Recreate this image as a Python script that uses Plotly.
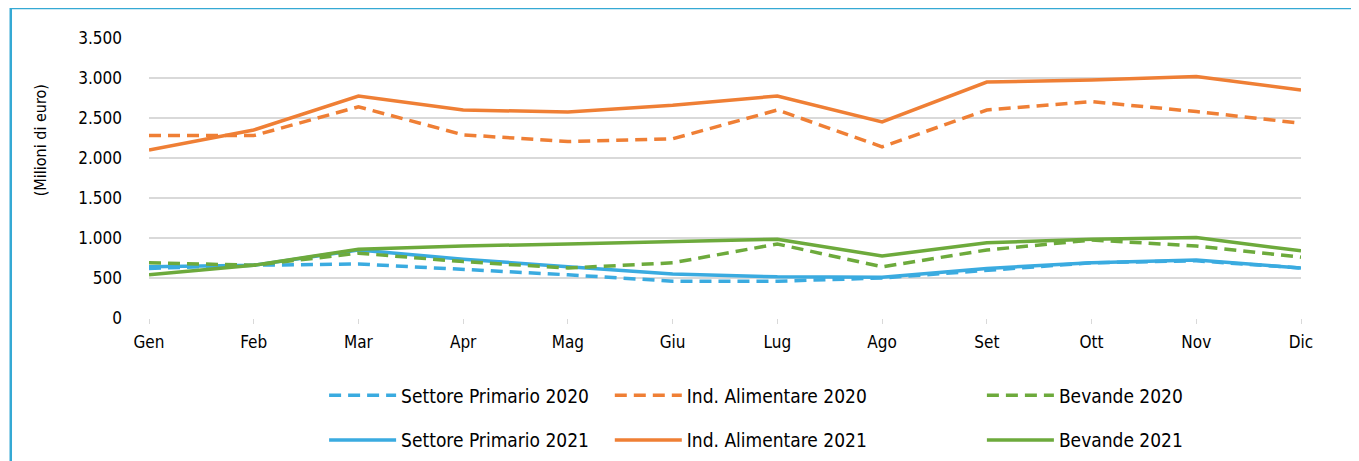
import plotly.graph_objects as go

mesi = ["Gen", "Feb", "Mar", "Apr", "Mag", "Giu", "Lug", "Ago", "Set", "Ott", "Nov", "Dic"]

primario_2020 = [620, 660, 675, 610, 540, 460, 460, 500, 590, 690, 715, 625]
primario_2021 = [640, 660, 850, 735, 640, 550, 515, 510, 620, 690, 725, 625]
alimentare_2020 = [2280, 2280, 2640, 2290, 2205, 2240, 2600, 2140, 2600, 2705, 2580, 2435]
alimentare_2021 = [2100, 2350, 2775, 2600, 2575, 2660, 2775, 2450, 2950, 2975, 3020, 2850]
bevande_2020 = [690, 660, 810, 705, 625, 690, 925, 640, 850, 975, 900, 760]
bevande_2021 = [540, 660, 860, 900, 925, 960, 985, 775, 940, 985, 1005, 840]

BLUE = "#3aabe0"
ORANGE = "#ef7f35"
GREEN = "#6daa3c"
FONT = "DejaVu Sans Condensed, Liberation Sans Narrow, sans-serif"

fig = go.Figure()

series = [
    ("Settore Primario 2020", primario_2020, BLUE, "12px,7px", "legend", "a"),
    ("Settore Primario 2021", primario_2021, BLUE, "solid", "legend", "b"),
    ("Ind. Alimentare 2020", alimentare_2020, ORANGE, "12px,7px", "legend2", "c"),
    ("Ind. Alimentare 2021", alimentare_2021, ORANGE, "solid", "legend2", "d"),
    ("Bevande 2020", bevande_2020, GREEN, "12px,7px", "legend3", "e"),
    ("Bevande 2021", bevande_2021, GREEN, "solid", "legend3", "f"),
]
for name, vals, col, dash, leg, grp in series:
    fig.add_trace(go.Scatter(x=mesi, y=vals, name=name, mode="lines",
                             line=dict(color=col, width=3.5, dash=dash),
                             legend=leg, legendgroup=grp))

leg_common = dict(orientation="v", yanchor="top", y=-0.209, xanchor="left",
                  font=dict(family=FONT, size=19, color="black"),
                  tracegroupgap=17, itemwidth=67, bgcolor="rgba(0,0,0,0)")
fig.update_layout(
    legend=dict(x=0.152, **leg_common),
    legend2=dict(x=0.4, **leg_common),
    legend3=dict(x=0.723, **leg_common),
)

fig.update_xaxes(type="category", range=[0, 11], showgrid=False, showline=False,
                 ticks="outside", ticklen=5, tickcolor="#d9d9d9",
                 ticklabelstandoff=4,
                 tickfont=dict(family=FONT, size=17, color="black"))
fig.update_yaxes(range=[0, 3500], dtick=500, tickformat=",.0f",
                 gridcolor="#d9d9d9", gridwidth=1.5, zeroline=False,
                 ticklabelstandoff=26,
                 tickfont=dict(family=FONT, size=17, color="black"))

fig.add_annotation(text="(Milioni di euro)", textangle=-90, xref="paper", yref="paper",
                   x=-0.1034, y=0.636, showarrow=False,
                   font=dict(family=FONT, size=16, color="black"))

fig.add_shape(type="rect", xref="paper", yref="paper", x0=-0.12, x1=1.3, y0=-1.0, y1=1.107,
              line=dict(color="#35a9d4", width=2.5), fillcolor="rgba(0,0,0,0)")

fig.update_layout(separators=",.", width=1351, height=453,
                  plot_bgcolor="white", paper_bgcolor="white",
                  margin=dict(l=141, r=58, t=30, b=143, autoexpand=False))

fig.write_html("out.html")
